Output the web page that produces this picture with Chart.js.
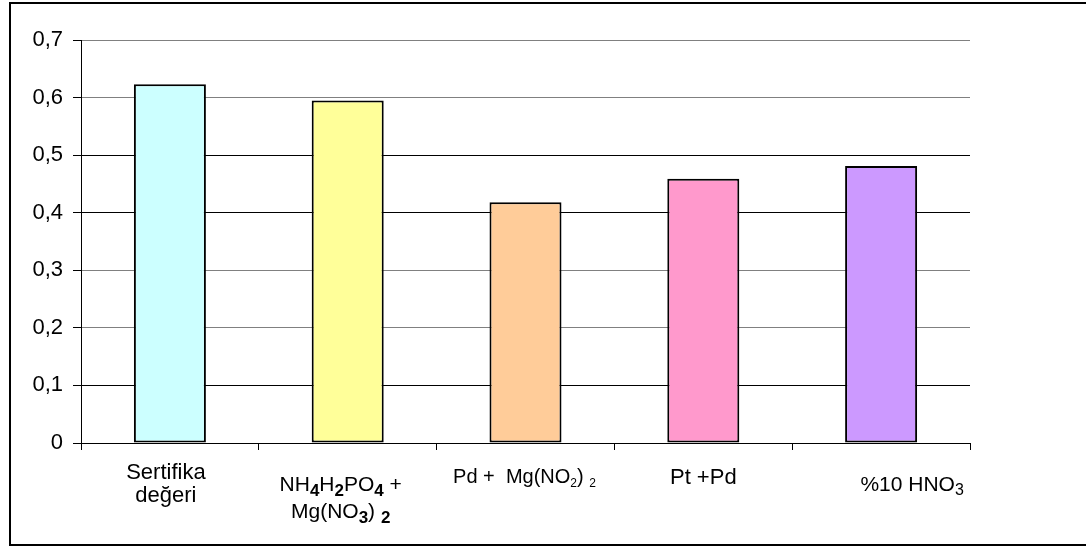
<!DOCTYPE html>
<html>
<head>
<meta charset="utf-8">
<script src="https://cdn.jsdelivr.net/npm/chart.js@4/dist/chart.umd.min.js"></script>
<style>
  body { margin: 0; background: #fff; }
</style>
</head>
<body>
<canvas id="barChart" width="1086" height="546"></canvas>
<script>
// chart data
const categories = ['Sertifika değeri', 'NH4H2PO4 + Mg(NO3)2', 'Pd + Mg(NO2)2', 'Pt +Pd', '%10 HNO3'];
const values = [0.623, 0.595, 0.418, 0.459, 0.481];
const yTickLabels = ['0', '0,1', '0,2', '0,3', '0,4', '0,5', '0,6', '0,7'];
// x labels, {x} = small subscript, <x> = subscript, [x] = bold subscript
const labelLines = [
    ['Sertifika', 'değeri'],
    ['NH[4]H[2]PO[4] +', 'Mg(NO[3]) [2]'],
    ['Pd +  Mg(NO{2}) {2}'],
    ['Pt +Pd'],
    ['%10 HNO<3>']
];

// styling
const barColors = ['#CCFFFF', '#FFFF99', '#FFCC99', '#FF99CC', '#CC99FF'];
const gridColors = ['#555', '#000', '#808080', '#808080', '#000', '#000', '#808080', '#808080'];
const labelShift = [-4, -7, -1, 0, 31];   // offset from category centre
const labelBase = [479, 491, 483, 484, 491]; // baseline of first line
const labelGap = [23, 27, 0, 0, 0];
const labelSize = [22, 21, 20, 22, 21];
const fontFamily = '"Liberation Sans", Arial, sans-serif';

// draw one line of text with subscripts
function drawRich(ctx, line, cx, y, size) {
    const parts = [];
    const re = /\{(.+?)\}|\[(.+?)\]|<(.+?)>|([^{\[<]+)/g;
    let m;
    while ((m = re.exec(line)) !== null) {
        if (m[1]) parts.push({ text: m[1], font: Math.round(size * 0.62) + 'px ' + fontFamily, dy: size * 0.18 });
        else if (m[2]) parts.push({ text: m[2], font: 'bold ' + Math.round(size * 0.8) + 'px ' + fontFamily, dy: size * 0.22 });
        else if (m[3]) parts.push({ text: m[3], font: Math.round(size * 0.78) + 'px ' + fontFamily, dy: size * 0.2 });
        else parts.push({ text: m[4], font: size + 'px ' + fontFamily, dy: 0 });
    }
    let total = 0;
    parts.forEach(p => { ctx.font = p.font; p.w = ctx.measureText(p.text).width; total += p.w; });
    let x = cx - total / 2;
    ctx.textAlign = 'left';
    ctx.textBaseline = 'alphabetic';
    ctx.fillStyle = '#000';
    parts.forEach(p => {
        ctx.font = p.font;
        ctx.fillText(p.text, x, y + p.dy);
        x += p.w;
    });
}

// white background and outer frame
const framePlugin = {
    id: 'frame',
    beforeDraw(chart) {
        const ctx = chart.ctx;
        ctx.save();
        ctx.fillStyle = '#fff';
        ctx.fillRect(0, 0, chart.width, chart.height);
        ctx.strokeStyle = '#000';
        ctx.lineWidth = 2;
        ctx.strokeRect(10, 3, chart.width + 20, chart.height - 4);
        ctx.restore();
    }
};

// category labels under the axis
const xLabelPlugin = {
    id: 'xLabels',
    afterDraw(chart) {
        const ctx = chart.ctx;
        const xs = chart.scales.x;
        ctx.save();
        labelLines.forEach((lines, i) => {
            const cx = xs.getPixelForValue(i) + labelShift[i];
            lines.forEach((line, j) => {
                drawRich(ctx, line, cx, labelBase[i] + j * labelGap[i], labelSize[i]);
            });
        });
        ctx.restore();
    }
};

const ctx = document.getElementById('barChart').getContext('2d');

const barChart = new Chart(ctx, {
    type: 'bar',
    data: {
        labels: categories,
        datasets: [{
            data: values,
            backgroundColor: barColors,
            borderColor: '#000',
            borderWidth: 2,
            borderSkipped: false,
            barPercentage: 0.405,
            categoryPercentage: 1
        }]
    },
    options: {
        responsive: false,
        animation: false,
        layout: {
            padding: { left: 0, top: 40, right: 116, bottom: 0 }
        },
        scales: {
            x: {
                afterFit: scale => { scale.height = 103; },
                ticks: { display: false },
                grid: {
                    offset: true,
                    color: c => c.index === categories.length ? '#808080' : 'rgba(0,0,0,0)',
                    tickColor: '#000',
                    tickLength: 7
                },
                border: { color: '#000', width: 1 }
            },
            y: {
                min: 0,
                max: 0.7,
                afterFit: scale => { scale.width = 81; },
                ticks: {
                    stepSize: 0.1,
                    color: '#000',
                    padding: 10,
                    font: { family: fontFamily, size: 22 },
                    callback: (v, i) => yTickLabels[i]
                },
                grid: {
                    color: c => gridColors[c.index],
                    tickColor: '#000',
                    tickLength: 8
                },
                border: { color: '#000', width: 1 }
            }
        },
        plugins: {
            legend: { display: false },
            tooltip: { enabled: false }
        }
    },
    plugins: [framePlugin, xLabelPlugin]
});
</script>
</body>
</html>
